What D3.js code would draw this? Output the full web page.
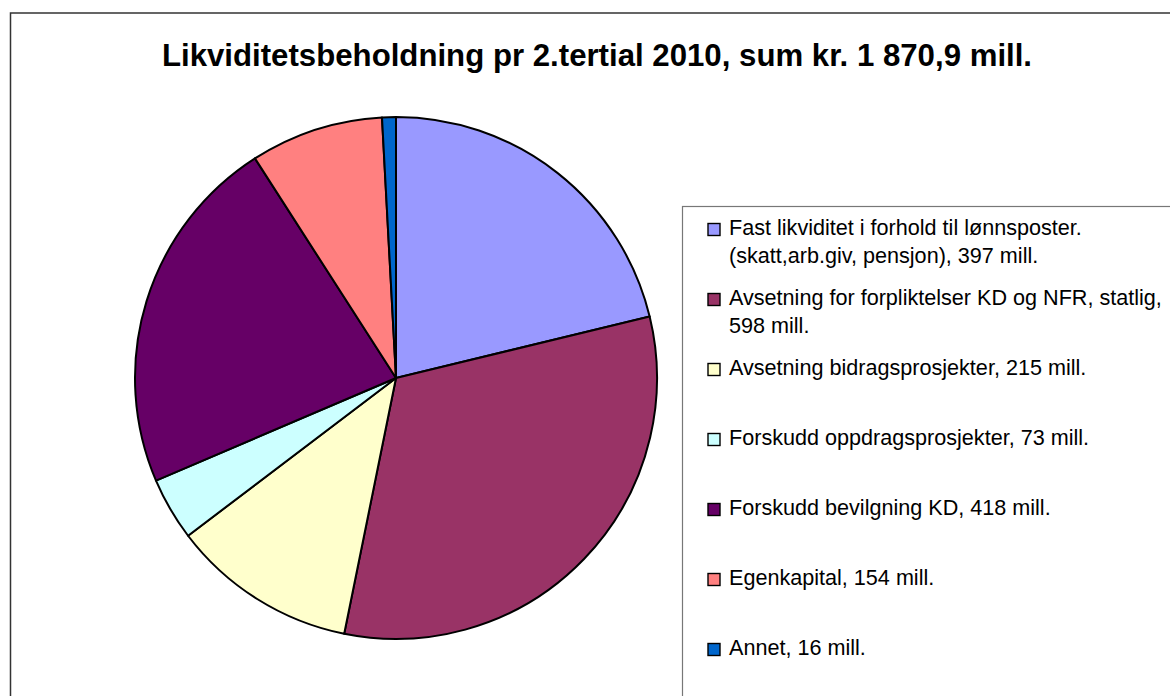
<!DOCTYPE html>
<html><head><meta charset="utf-8">
<script src="https://cdn.jsdelivr.net/npm/d3@7"></script>
<style>body{margin:0;background:#fff}svg{display:block}</style>
</head><body>
<svg id="c" width="1170" height="696"></svg>
<script>
const title = "Likviditetsbeholdning pr 2.tertial 2010, sum kr. 1 870,9 mill.";
const categories = [
  ["Fast likviditet i forhold til lønnsposter.", "(skatt,arb.giv, pensjon), 397 mill."],
  ["Avsetning for forpliktelser KD og NFR, statlig,", "598 mill."],
  ["Avsetning bidragsprosjekter, 215 mill."],
  ["Forskudd oppdragsprosjekter, 73 mill."],
  ["Forskudd bevilgning KD, 418 mill."],
  ["Egenkapital, 154 mill."],
  ["Annet, 16 mill."]
];
const values = [397, 598, 215, 73, 418, 154, 16];
const colors = ["#9999FF", "#993366", "#FFFFCC", "#CCFFFF", "#660066", "#FF8080", "#0066CC"];

const svg = d3.select("#c");
const font = "Liberation Sans, Arial, sans-serif";

svg.append("rect").attr("x", 10.5).attr("y", 13).attr("width", 1200).attr("height", 720)
  .attr("fill", "#fff").attr("stroke", "#333").attr("stroke-width", 1.5);

svg.append("text").attr("x", 597).attr("y", 66).attr("text-anchor", "middle")
  .attr("font-family", font).attr("font-weight", "bold").attr("font-size", 31.2)
  .text(title);

const cx = 396, cy = 378, r = 261;
const pie = d3.pie().sort(null).value(d => d)(values);
const arc = d3.arc().innerRadius(0).outerRadius(r);
const g = svg.append("g").attr("transform", `translate(${cx},${cy})`);
g.selectAll("path").data(pie).join("path")
  .attr("d", arc).attr("fill", (d, i) => colors[i])
  .attr("stroke", "#000").attr("stroke-width", 2).attr("stroke-linejoin", "round");

// legend
svg.append("rect").attr("x", 682.5).attr("y", 206.5).attr("width", 600).attr("height", 600)
  .attr("fill", "#fff").attr("stroke", "#777").attr("stroke-width", 1.2);

const leg = svg.append("g");
const items = leg.selectAll("g").data(categories).join("g")
  .attr("transform", (d, i) => `translate(0,${235 + i * 70})`);
items.append("rect").attr("x", 708).attr("y", -11.5).attr("width", 12).attr("height", 12)
  .attr("fill", (d, i) => colors[i]).attr("stroke", "#000").attr("stroke-width", 1.4);
items.each(function(d) {
  const t = d3.select(this).append("text").attr("font-family", font).attr("font-size", 21.6).attr("fill", "#000");
  d.forEach((line, j) => t.append("tspan").attr("x", 729).attr("y", j * 28).text(line));
});
</script>
</body></html>
